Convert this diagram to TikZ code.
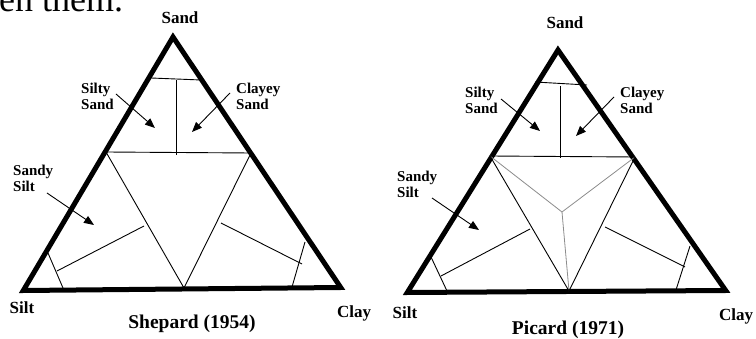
\documentclass[tikz,border=0pt]{standalone}
\usepackage{fontspec}
\setmainfont{Liberation Serif}
\usetikzlibrary{arrows.meta}
\begin{document}
\begin{tikzpicture}[x=1pt,y=-1pt,
  tri/.style={line width=5pt, line join=miter},
  thinln/.style={line width=0.9pt},
  grayln/.style={line width=0.8pt, draw=black!45},
  lab/.style={font=\bfseries\fontsize{15}{16}\selectfont, align=left, inner sep=0pt, anchor=west},
  corner/.style={font=\bfseries\fontsize{17}{18}\selectfont, inner sep=0pt},
  ttl/.style={font=\bfseries\fontsize{19.5}{21}\selectfont, inner sep=0pt},
  arr/.style={line width=0.9pt, -{Triangle[length=10pt,width=8pt]}}]
\useasboundingbox (0,0) rectangle (756,339);
\clip (0,0) rectangle (756,339);
\node[anchor=base west, inner sep=0pt, font=\fontsize{36}{36}\selectfont] (cut) at (-1,12) {en them.};

% ---------- Shepard ----------
\coordinate (A1) at (173,37);
\coordinate (B1) at (23.3,290.5);
\coordinate (C1) at (340.7,287.5);
\draw[tri] (A1) -- (B1) -- (C1) -- cycle;
\coordinate (a1) at (151,78);
\coordinate (a2) at (201,80);
\coordinate (v1) at (176,80);
\coordinate (v2) at (176,155);
\coordinate (h1) at (106,152);
\coordinate (h2) at (251,153);
\coordinate (m1) at (184,288);
\coordinate (l1) at (144,226);
\coordinate (l2) at (57,271);
\coordinate (s1) at (48,253);
\coordinate (s2) at (63,288);
\coordinate (r1) at (221,223);
\coordinate (r2) at (302,264);
\coordinate (t1) at (305,242);
\coordinate (t2) at (292,287);
\draw[thinln] (a1) -- (a2);
\draw[thinln] (v1) -- (v2);
\draw[thinln] (h1) -- (h2);
\draw[thinln] (h1) -- (m1) -- (h2);
\draw[thinln] (l1) -- (l2);
\draw[thinln] (s1) -- (s2);
\draw[thinln] (r1) -- (r2);
\draw[thinln] (t1) -- (t2);

\node[corner] (sand1) at (180,18) {Sand};
\node[corner] (silt1) at (22,308) {Silt};
\node[corner] (clay1) at (354,313) {Clay};
\node[ttl] (title1) at (192,324) {Shepard (1954)};
\node[lab] (ss1) at (81,96) {Silty\\Sand};
\node[lab] (cs1) at (236,96) {Clayey\\Sand};
\node[lab] (sd1) at (13,178) {Sandy\\Silt};
\coordinate (p1) at (116,94);  \coordinate (q1) at (155,128);
\coordinate (p2) at (230,93);  \coordinate (q2) at (192,132);
\coordinate (p3) at (47,193);  \coordinate (q3) at (94,225);
\draw[arr] (p1) -- (q1);
\draw[arr] (p2) -- (q2);
\draw[arr] (p3) -- (q3);

% ---------- Picard ----------
\coordinate (A2) at (558,50);
\coordinate (B2) at (407.3,292.5);
\coordinate (C2) at (725.7,290.5);
\draw[tri] (A2) -- (B2) -- (C2) -- cycle;
\coordinate (b1) at (535,82);
\coordinate (b2) at (587,85);
\coordinate (w1) at (560,86);
\coordinate (w2) at (560,158);
\coordinate (k1) at (490,156);
\coordinate (k2) at (635,157);
\coordinate (n1) at (569,291);
\coordinate (cc) at (562,212);
\coordinate (e1) at (530,229);
\coordinate (e2) at (441,276);
\coordinate (f1) at (431,257);
\coordinate (f2) at (447,291);
\coordinate (g1) at (605,227);
\coordinate (g2) at (685,267);
\coordinate (u1) at (690,246);
\coordinate (u2) at (676,290);
\draw[grayln] (k1) -- (cc) -- (k2);
\draw[grayln] (cc) -- (n1);
\draw[thinln] (b1) -- (b2);
\draw[thinln] (w1) -- (w2);
\draw[thinln] (k1) -- (k2);
\draw[thinln] (k1) -- (n1) -- (k2);
\draw[thinln] (e1) -- (e2);
\draw[thinln] (f1) -- (f2);
\draw[thinln] (g1) -- (g2);
\draw[thinln] (u1) -- (u2);

\node[corner] (sand2) at (565,23) {Sand};
\node[corner] (silt2) at (405,313) {Silt};
\node[corner] (clay2) at (736,316) {Clay};
\node[ttl] (title2) at (568,330) {Picard (1971)};
\node[lab] (ss2) at (465,100) {Silty\\Sand};
\node[lab] (cs2) at (620,100) {Clayey\\Sand};
\node[lab] (sd2) at (397,184) {Sandy\\Silt};
\coordinate (p4) at (501,99);  \coordinate (q4) at (540,131);
\coordinate (p5) at (614,97);  \coordinate (q5) at (576,136);
\coordinate (p6) at (432,198); \coordinate (q6) at (479,230);
\draw[arr] (p4) -- (q4);
\draw[arr] (p5) -- (q5);
\draw[arr] (p6) -- (q6);
\end{tikzpicture}
\end{document}
